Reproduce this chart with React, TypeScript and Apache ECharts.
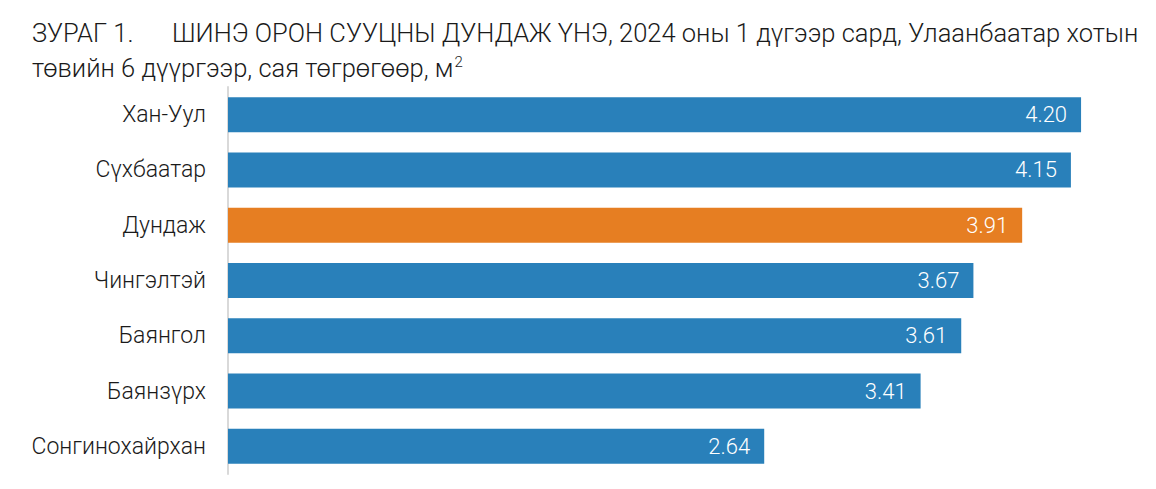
import React, { useEffect, useRef } from "react";
import * as echarts from "echarts";

const categories = ["Хан-Уул", "Сүхбаатар", "Дундаж", "Чингэлтэй", "Баянгол", "Баянзүрх", "Сонгинохайрхан"];
const values = [4.2, 4.15, 3.91, 3.67, 3.61, 3.41, 2.64];
const highlight = "Дундаж";
const titleNo = "ЗУРАГ 1.";
const titleLine1 = "ШИНЭ ОРОН СУУЦНЫ ДУНДАЖ ҮНЭ, 2024 оны 1 дүгээр сард, Улаанбаатар хотын";
const titleLine2 = "төвийн 6 дүүргээр, сая төгрөгөөр, м";
const titleSup = "2";

const BLUE = "#2980ba";
const ORANGE = "#e67e22";
const FONT = "Roboto";

export default function App() {
  const ref = useRef<HTMLDivElement>(null);
  useEffect(() => {
    const chart = echarts.init(ref.current!, null, { renderer: "svg" });
    const titleStyle: any = { fontFamily: FONT, fontSize: 25.5, fontWeight: 300, color: "#1a1a1a" };
    chart.setOption({
      animation: false,
      backgroundColor: "#ffffff",
      title: [
        { text: titleNo, left: 32, top: 20, textStyle: titleStyle, padding: 0 },
        { text: titleLine1, left: 172, top: 20, textStyle: titleStyle, padding: 0 },
        {
          text: `{m|${titleLine2}}{s|${titleSup}}`,
          left: 32,
          top: 54,
          padding: 0,
          textStyle: {
            ...titleStyle,
            rich: {
              m: { fontFamily: FONT, fontSize: 25.5, fontWeight: 300, color: "#1a1a1a", lineHeight: 28 },
              s: { fontFamily: FONT, fontSize: 15, fontWeight: 300, color: "#1a1a1a", lineHeight: 28, verticalAlign: "top", padding: [0, 0, 0, 1] },
            },
          },
        },
      ],
      grid: { left: 228, top: 87, height: 387, width: 914, containLabel: false },
      xAxis: {
        type: "value",
        min: 0,
        max: 4.5,
        show: false,
      },
      yAxis: {
        type: "category",
        inverse: true,
        data: categories,
        axisLine: { show: true, lineStyle: { color: "#d9d9d9", width: 2 } },
        axisTick: { show: false },
        axisLabel: { fontFamily: FONT, fontSize: 23, fontWeight: 300, color: "#1a1a1a", margin: 22 },
      },
      series: [
        {
          type: "bar",
          barWidth: 35,
          data: values.map((v, i) => ({
            value: v,
            itemStyle: { color: categories[i] === highlight ? ORANGE : BLUE },
          })),
          label: {
            show: true,
            position: "insideRight",
            distance: 14,
            color: "#ffffff",
            fontFamily: FONT,
            fontSize: 22,
            fontWeight: 300,
            formatter: (p: any) => Number(p.value).toFixed(2),
          },
        },
      ],
    });
    return () => chart.dispose();
  }, []);
  return <div ref={ref} style={{ position: "fixed", left: 0, top: 0, width: 1156, height: 489 }} />;
}
